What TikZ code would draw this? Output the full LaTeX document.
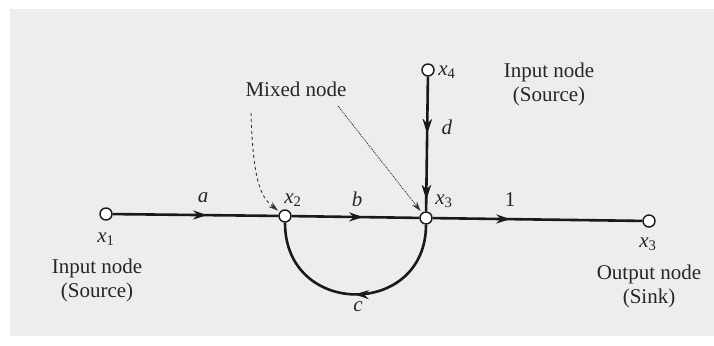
\documentclass[tikz,border=0pt]{standalone}
\usepackage{fontspec}
\setmainfont{Liberation Serif}
\usetikzlibrary{arrows.meta,decorations.markings}
\newcommand{\vx}[1]{\textit{x}\textsubscript{#1}}
\begin{document}
\begin{tikzpicture}[x=1pt,y=-1pt,
  sig/.style={circle,draw=black!90,fill=white,line width=1.4pt,minimum size=12pt,inner sep=0pt},
  lbl/.style={text=black!85,font=\fontsize{21}{24}\selectfont,inner sep=0pt,align=center},
  br/.style={draw=black!90,line width=2.6pt},
  midarrow/.style={postaction={decorate},decoration={markings,mark=at position #1 with {\arrow{Stealth[length=14pt,width=9pt]}}}},
  pointer/.style={draw=black!80,line width=0.9pt,-{Stealth[length=10pt,width=6pt]},shorten >=2pt}
]
\useasboundingbox (0,0) rectangle (714,345);
\fill[white] (0,0) rectangle (714,345);
\fill[black!7] (10,9) rectangle (714,336);

% nodes
\node[sig] (x1) at (106,214) {};
\node[sig] (x2) at (285,216) {};
\node[sig] (x3) at (426,218) {};
\node[sig] (xo) at (649,221) {};
\node[sig] (x4) at (428,70) {};

% branches
\path[br,midarrow=0.57] (x1) -- (x2);
\path[br,midarrow=0.56] (x2) -- (x3);
\path[br,midarrow=0.37] (x3) -- (xo);
\path[br,midarrow=0.42,postaction={decorate},decoration={markings,mark=at position 0.91 with {\arrow{Stealth[length=14pt,width=9pt]}}}] (x4) -- (x3);
\path[br,midarrow=0.50] (x3) .. controls (426,318) and (285,318) .. (x2);

% pointers
\coordinate (m1) at (251,113);
\coordinate (m2) at (338,106);
\draw[pointer,dashed] (m1) .. controls (253,185) and (262,198) .. (x2);
\draw[pointer,densely dotted] (m2) -- (x3);

% labels
\node[lbl] (la) at (203,198) {\textit{a}};
\node[lbl] (lb) at (357,199) {\textit{b}};
\node[lbl] (l1) at (510,200) {1};
\node[lbl] (ld) at (447,127) {\textit{d}};
\node[lbl] (lc) at (358,307) {\textit{c}};
\node[lbl] (lx1) at (106,239) {\vx{1}};
\node[lbl] (lx2) at (293,200) {\vx{2}};
\node[lbl] (lx3) at (444,201) {\vx{3}};
\node[lbl] (lx4) at (447,72) {\vx{4}};
\node[lbl] (lxo) at (648,244) {\vx{3}};
\node[lbl] (tin) at (97,280) {Input node\\(Source)};
\node[lbl] (tout) at (649,286) {Output node\\(Sink)};
\node[lbl] (tin2) at (549,84) {Input node\\(Source)};
\node[lbl] (tmix) at (296,89) {Mixed node};
\end{tikzpicture}
\end{document}
